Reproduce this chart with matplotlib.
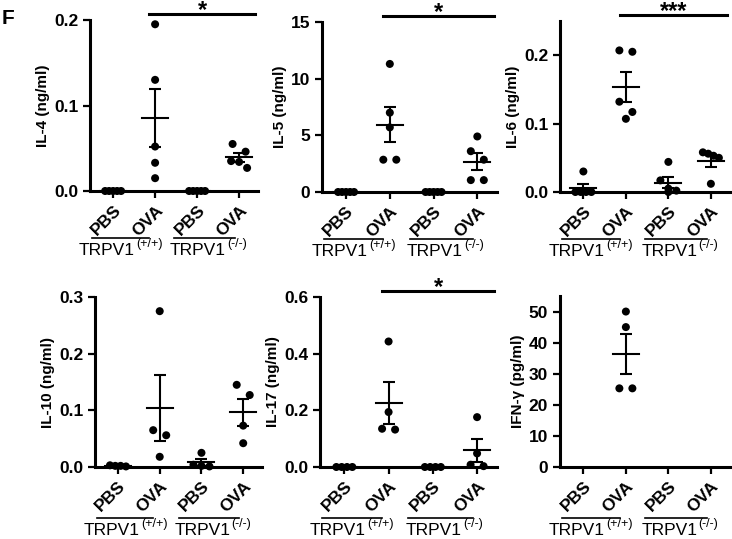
import numpy as np
import matplotlib
matplotlib.use("Agg")
import matplotlib.pyplot as plt
from matplotlib import transforms

plt.rcParams['font.family'] = ['Liberation Sans', 'DejaVu Sans']

# categories
groups = ['PBS', 'OVA', 'PBS', 'OVA']
genotypes = ['TRPV1', 'TRPV1']
genotype_sup = ['(+/+)', '(-/-)']

# values, one list per group
il4 = [[0, 0, 0, 0, 0],
       [0.195, 0.13, 0.052, 0.033, 0.015],
       [0, 0, 0, 0, 0],
       [0.055, 0.046, 0.035, 0.034, 0.027]]
il5 = [[0, 0, 0, 0, 0],
       [11.3, 7.0, 5.7, 2.85, 2.85],
       [0, 0, 0, 0, 0],
       [4.9, 3.6, 2.85, 1.05, 1.05]]
il6 = [[0.03, 0, 0, 0, 0],
       [0.207, 0.205, 0.132, 0.117, 0.107],
       [0.044, 0.017, 0.005, 0.002, 0.0],
       [0.058, 0.056, 0.053, 0.05, 0.012]]
il10 = [[0.003, 0.002, 0.002, 0.001],
        [0.275, 0.065, 0.056, 0.018],
        [0.025, 0.004, 0.002, 0.001],
        [0.145, 0.127, 0.073, 0.042]]
il17 = [[0, 0, 0, 0],
        [0.443, 0.194, 0.135, 0.132],
        [0, 0, 0, 0],
        [0.176, 0.048, 0.008, 0.003]]
ifng = [[],
        [50, 45, 25.3, 25.3],
        [],
        []]

ylabels = ['IL-4 (ng/ml)', 'IL-5 (ng/ml)', 'IL-6 (ng/ml)',
           'IL-10 (ng/ml)', 'IL-17 (ng/ml)', 'IFN-γ (pg/ml)']
yticks = [[0.0, 0.1, 0.2], [0, 5, 10, 15], [0.0, 0.1, 0.2],
          [0.0, 0.1, 0.2, 0.3], [0.0, 0.2, 0.4, 0.6], [0, 10, 20, 30, 40, 50]]
ytop = [0.2, 15, 0.25, 0.3, 0.6, 55]
stars = ['*', '*', '***', None, '*', None]
data = [il4, il5, il6, il10, il17, ifng]

W, H = 732, 539
fig = plt.figure(figsize=(W / 100, H / 100), dpi=100)

# axes boxes in pixels: left, top, right, bottom
boxes = [(90, 20, 258, 191), (322, 22, 497, 192), (560, 21, 730, 192),
         (95, 297, 262, 467), (320, 297, 497, 467), (560, 296, 730, 467)]
xlim = (-0.55, 3.45)
dot = 8.0  # marker diameter in px


def swarm(vals, ypx, xpx):
    # simple row-based spread, like Prism scatter columns
    vals = np.asarray(vals, dtype=float)
    order = np.argsort(-vals, kind='stable')
    rows = []
    for i in order:
        y = vals[i] * ypx
        if rows and abs(rows[-1][0][1] - y) <= 11:
            rows[-1].append((i, y))
        else:
            rows.append([(i, y)])
    off = np.zeros(len(vals))
    for row in rows:
        n = len(row)
        sp = min(13.0, 16.0 / (n - 1)) if n > 1 else 0.0
        for k, (i, y) in enumerate(row):
            off[i] = (k - (n - 1) / 2) * sp / xpx
    return off


for p in range(6):
    l, t, r, b = boxes[p]
    ax = fig.add_axes([l / W, (H - b) / H, (r - l) / W, (b - t) / H])
    ax.set_xlim(*xlim)
    ax.set_ylim(0, ytop[p])
    xpx = (r - l) / (xlim[1] - xlim[0])
    ypx = (b - t) / ytop[p]

    for g, vals in enumerate(data[p]):
        if len(vals) == 0:
            continue
        off = swarm(vals, ypx, xpx)
        ax.scatter(g + off, vals, s=dot ** 2 * 0.52, color='black',
                   edgecolors='none', clip_on=False, zorder=4)
        m = np.mean(vals)
        sem = np.std(vals, ddof=1) / np.sqrt(len(vals))
        ax.plot([g - 13 / xpx, g + 13 / xpx], [m, m], color='black',
                lw=1.5, clip_on=False, zorder=5)
        ax.errorbar(g, m, yerr=sem, fmt='none', ecolor='black', elinewidth=1.5,
                    capsize=4.3, capthick=1.5, clip_on=False, zorder=5)

    for s in ['top', 'right']:
        ax.spines[s].set_visible(False)
    for s in ['left', 'bottom']:
        ax.spines[s].set_linewidth(2.2)
    ax.tick_params(width=1.6, length=5, direction='out', labelsize=12.5)

    ax.set_xticks(range(4))
    ax.set_xticklabels(groups, rotation=45, ha='right', rotation_mode='anchor',
                       fontweight='bold')
    ax.set_yticks(yticks[p])
    if isinstance(yticks[p][0], float):
        ax.set_yticklabels(['%.1f' % v for v in yticks[p]], fontweight='bold')
    else:
        ax.set_yticklabels([str(v) for v in yticks[p]], fontweight='bold')
    ax.set_ylabel(ylabels[p], fontsize=11, fontweight='bold', labelpad=3)

    # genotype brackets under the tick labels
    dy = -47 if p < 3 else -51
    tl = transforms.offset_copy(ax.get_xaxis_transform(), fig=fig, y=dy, units='dots')
    tt = transforms.offset_copy(ax.get_xaxis_transform(), fig=fig, y=dy - 17, units='dots')
    for (x0, x1), xc, lab, sup in zip([(-0.5, 0.85), (1.45, 2.9)], [-0.15, 2.02],
                                      genotypes, genotype_sup):
        ax.plot([x0, x1], [0, 0], transform=tl, color='black', lw=1.2, clip_on=False)
        txt = ax.text(xc, 0, lab, transform=tt, ha='center', va='baseline', fontsize=12.5)
        ax.annotate(sup, xy=(1, 0), xycoords=txt, xytext=(1, 8), textcoords='offset points',
                    ha='left', va='baseline', fontsize=9)

    # significance bar
    if stars[p]:
        tb = transforms.offset_copy(ax.get_xaxis_transform(), fig=fig, y=6.5, units='dots')
        ts = transforms.offset_copy(ax.get_xaxis_transform(), fig=fig, y=2.5, units='dots')
        ax.plot([0.85, 3.38], [1, 1], transform=tb, color='black', lw=2.2, clip_on=False)
        ax.text(2.12, 1, stars[p], transform=ts, ha='center', va='baseline',
                fontsize=17, fontweight='bold')

fig.text(2 / W, 1 - 18 / H, 'F', fontsize=15, fontweight='bold', va='center')

fig.savefig('out.png', dpi=100)
